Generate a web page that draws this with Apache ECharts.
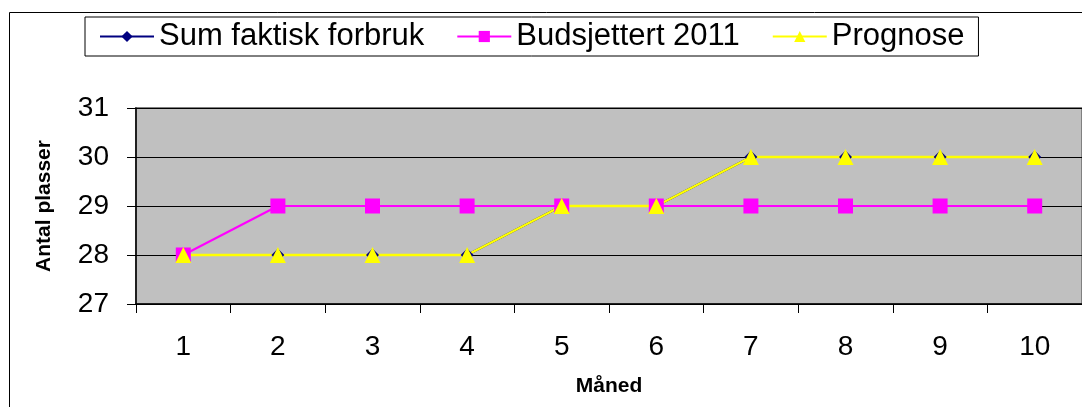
<!DOCTYPE html>
<html>
<head>
<meta charset="utf-8">
<script src="https://cdn.jsdelivr.net/npm/echarts@6/dist/echarts.min.js"></script>
<style>
  html, body { margin: 0; padding: 0; background: #fff; }
  #main { width: 1082px; height: 407px; }
</style>
</head>
<body>
<div id="main"></div>
<script>
// data
var months = ['1', '2', '3', '4', '5', '6', '7', '8', '9', '10'];
var faktisk = [28, 28, 28, 28, 29, 29, 30, 30, 30, 30];
var budsjett = [28, 29, 29, 29, 29, 29, 29, 29, 29, 29];
var prognose = [28, 28, 28, 28, 29, 29, 30, 30, 30, 30];

var myChart = echarts.init(document.getElementById('main'));

var font = 'Liberation Sans, Arial, sans-serif';

var option = {
    animation: false,
    backgroundColor: '#fff',
    textStyle: { fontFamily: font },
    graphic: [{
        // ytre ramme rundt diagrammet
        type: 'rect',
        z: -10,
        shape: { x: 9.5, y: 12.5, width: 1200, height: 500 },
        style: { fill: 'none', stroke: '#000', lineWidth: 1 }
    }],
    legend: {
        left: 85,
        top: 17,
        padding: [4, 14, 4, 14],
        itemGap: 32,
        itemWidth: 54,
        itemHeight: 14,
        borderColor: '#000',
        borderWidth: 1,
        textStyle: { fontSize: 31, color: '#000', fontFamily: font },
        data: ['Sum faktisk forbruk', 'Budsjettert 2011', 'Prognose']
    },
    grid: {
        left: 136,
        right: 0,
        top: 108,
        bottom: 103,
        show: true,
        backgroundColor: '#C0C0C0',
        borderColor: '#808080',
        borderWidth: 2
    },
    xAxis: {
        type: 'category',
        data: months,
        name: 'Måned',
        nameLocation: 'middle',
        nameGap: 72,
        nameTextStyle: { fontSize: 21, fontWeight: 'bold', color: '#000' },
        axisLine: { lineStyle: { color: '#000', width: 1.5 } },
        axisTick: { show: true, length: 9, lineStyle: { color: '#000' } },
        axisLabel: { fontSize: 28, color: '#000', margin: 29 }
    },
    yAxis: {
        type: 'value',
        min: 27,
        max: 31,
        interval: 1,
        name: 'Antal plasser',
        nameLocation: 'middle',
        nameGap: 81,
        nameTextStyle: { fontSize: 21, fontWeight: 'bold', color: '#000' },
        axisLine: { show: true, lineStyle: { color: '#000', width: 1.5 } },
        axisTick: { show: true, length: 9, lineStyle: { color: '#000' } },
        axisLabel: { fontSize: 28, color: '#000', margin: 27 },
        splitLine: { lineStyle: { color: '#000', width: 1 } }
    },
    series: [{
        name: 'Sum faktisk forbruk',
        type: 'line',
        data: faktisk,
        color: '#000080',
        symbol: 'diamond',
        symbolSize: 13,
        lineStyle: { width: 2 }
    }, {
        name: 'Budsjettert 2011',
        type: 'line',
        data: budsjett,
        color: '#FF00FF',
        symbol: 'rect',
        symbolSize: 15,
        lineStyle: { width: 2 }
    }, {
        name: 'Prognose',
        type: 'line',
        data: prognose,
        color: '#FFFF00',
        symbol: 'triangle',
        symbolSize: 16,
        lineStyle: { width: 2.5 }
    }]
};

myChart.setOption(option);
</script>
</body>
</html>
